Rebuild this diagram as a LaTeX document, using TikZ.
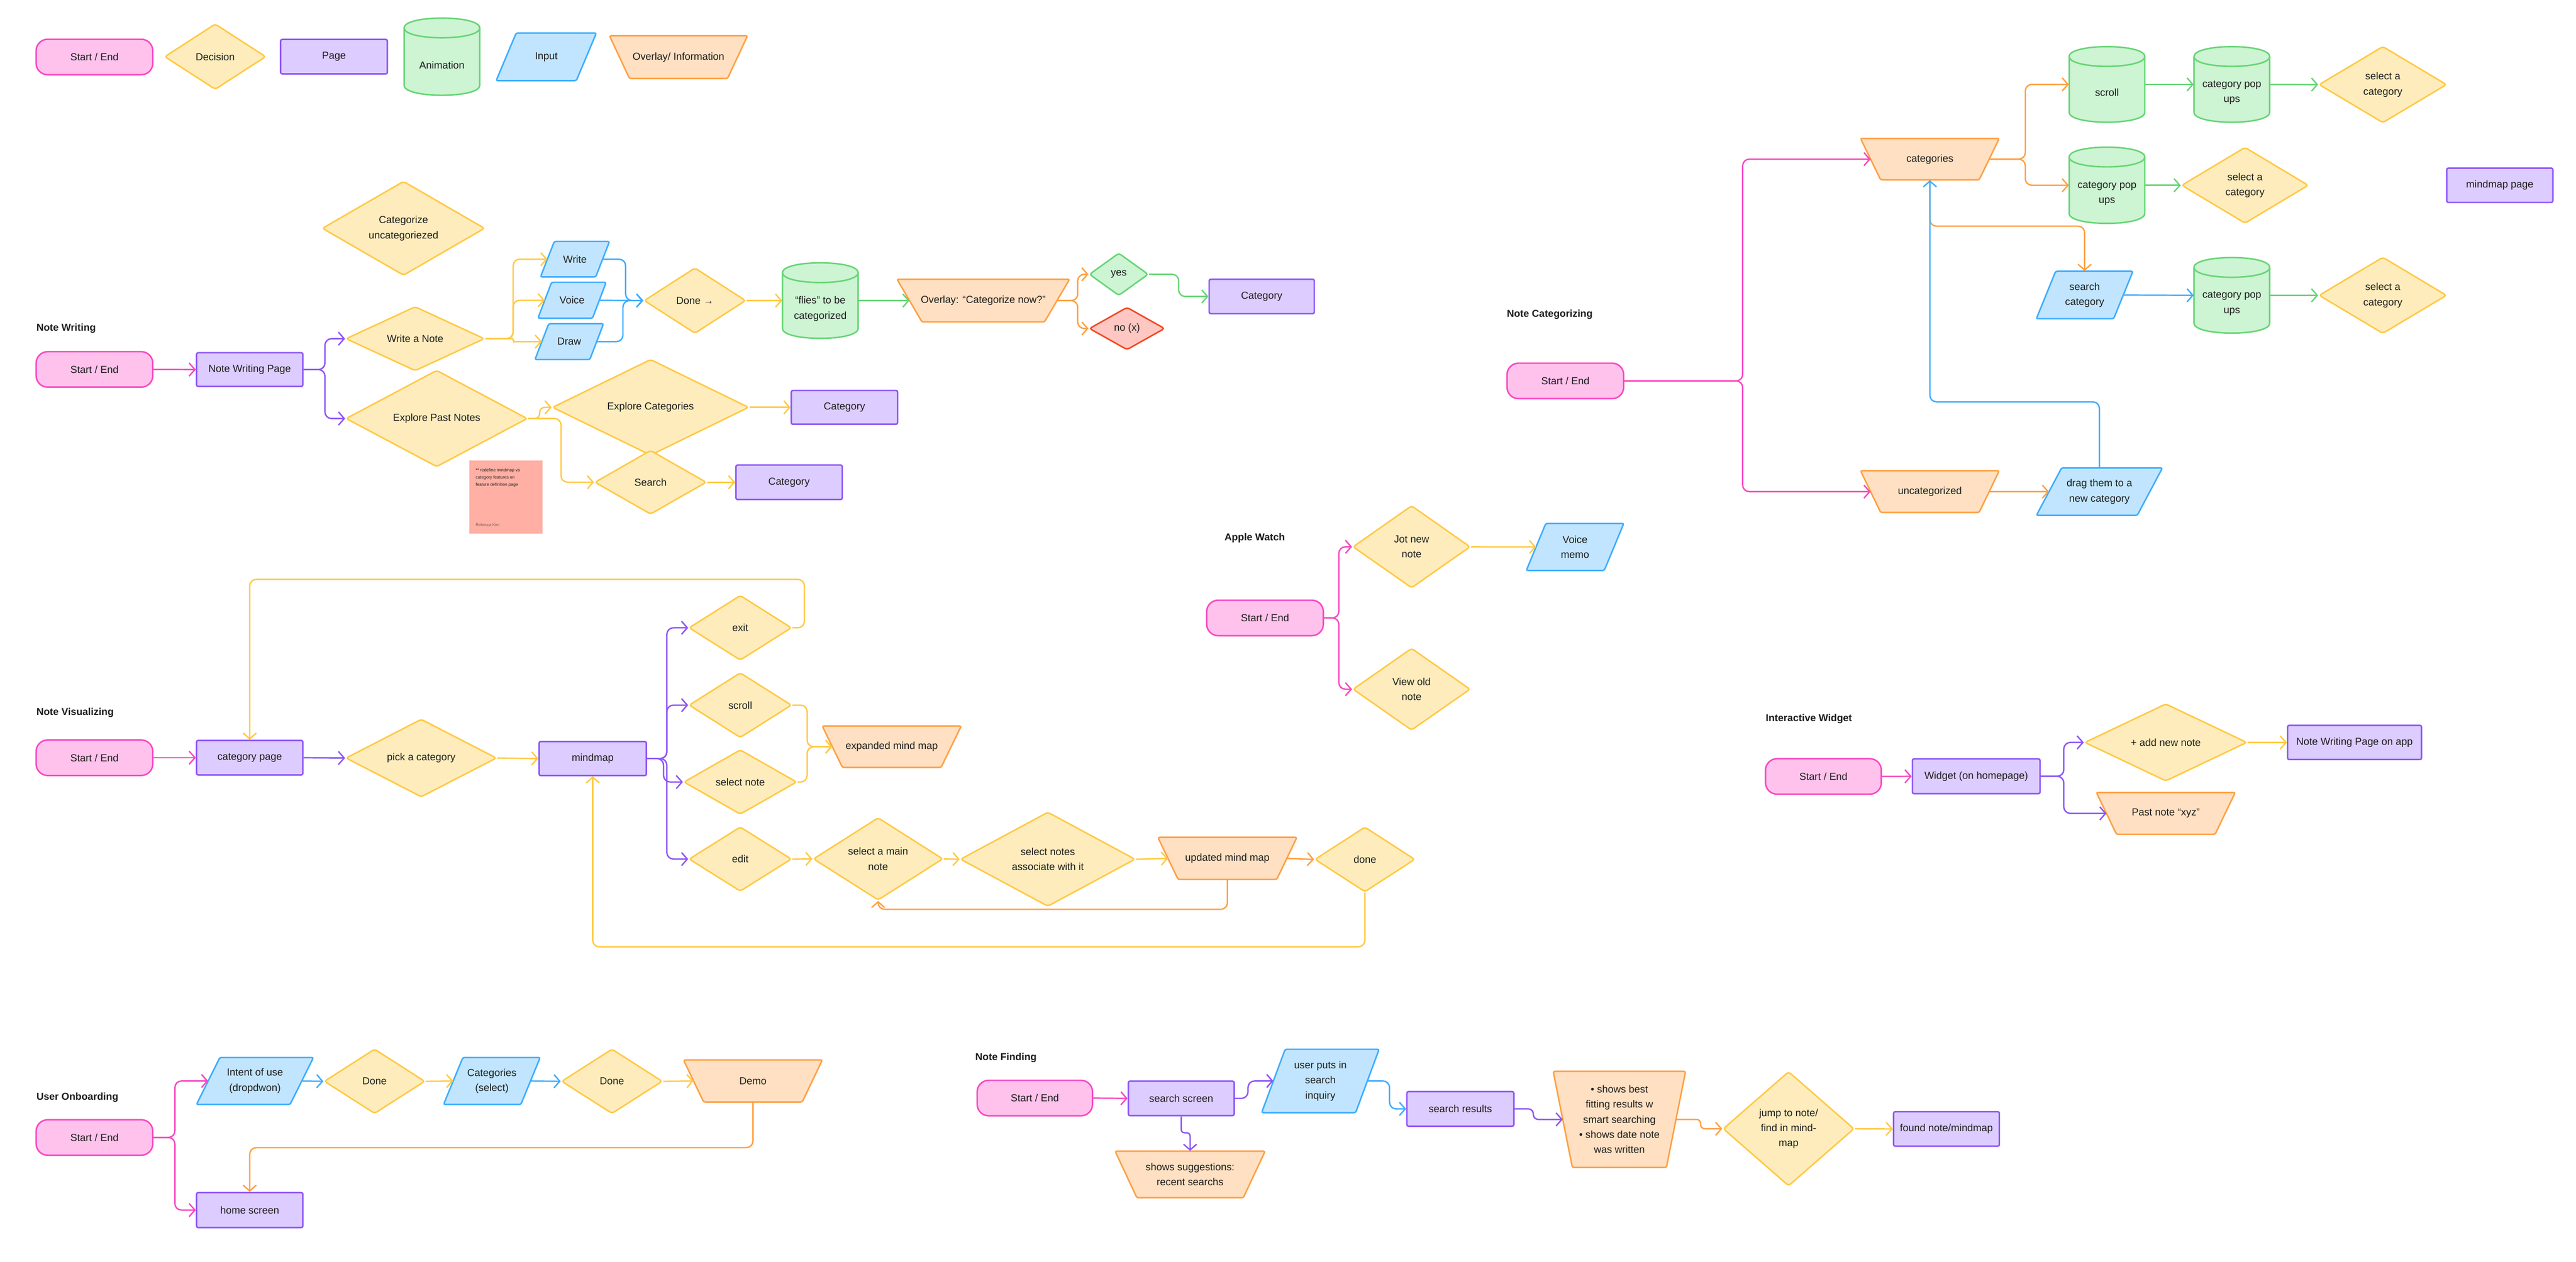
\documentclass[tikz,border=0pt]{standalone}
\usepackage{fontspec}
\setmainfont{Liberation Sans}
\usetikzlibrary{shapes.geometric,arrows.meta}
\definecolor{txt}{HTML}{1E1E1E}
\definecolor{pinkS}{HTML}{F849C1}\definecolor{pinkF}{HTML}{FFC2EC}
\definecolor{yelS}{HTML}{FFC943}\definecolor{yelF}{HTML}{FFECBD}
\definecolor{purS}{HTML}{8D55F7}\definecolor{purF}{HTML}{DCCCFF}
\definecolor{grnS}{HTML}{66D575}\definecolor{grnF}{HTML}{CDF4D3}
\definecolor{bluS}{HTML}{3DADFF}\definecolor{bluF}{HTML}{C2E5FF}
\definecolor{orgS}{HTML}{FFA043}\definecolor{orgF}{HTML}{FFE0C2}
\definecolor{redS}{HTML}{F24822}\definecolor{redF}{HTML}{FFC7C2}
\definecolor{stickyF}{HTML}{FFAFA3}\definecolor{stickyT}{HTML}{7A5A55}
\tikzset{
 every node/.style={text=txt, font=\fontsize{6.2}{9.2}\selectfont, align=center},
 startend/.style={rectangle, rounded corners=7pt, draw=pinkS, fill=pinkF, line width=0.9pt, minimum width=71pt, minimum height=21.6pt, inner sep=0pt},
 pagebox/.style={rectangle, rounded corners=1pt, draw=purS, fill=purF, line width=0.9pt, minimum width=64.7pt, minimum height=21pt, inner sep=0pt},
 decision/.style={diamond, draw=yelS, fill=yelF, line width=0.9pt, rounded corners=1.5pt, inner sep=0pt, aspect=1},
 greendec/.style={decision, draw=grnS, fill=grnF},
 reddec/.style={decision, draw=redS, fill=redF},
 lbl/.style={rectangle, inner sep=0pt},
 sectitle/.style={font=\fontsize{6.1}{7}\selectfont\bfseries, anchor=west, inner sep=0pt},
 arr/.style={line width=0.85pt, rounded corners=4pt, -{Straight Barb[length=3.5pt,width=8pt]}},
 inshape/.style={draw=bluS, fill=bluF, line width=0.9pt, rounded corners=1pt},
 ovshape/.style={draw=orgS, fill=orgF, line width=0.9pt, rounded corners=1pt},
 cylshape/.style={draw=grnS, fill=grnF, line width=0.9pt},
}
% parallelogram (input): name, cx, cy, w, h, text
\newcommand\inbox[6]{%
  \pgfmathsetmacro\skw{0.2*#4}%
  \path[inshape] ({#2-#4/2+\skw},{#3-#5/2}) -- ({#2+#4/2},{#3-#5/2}) -- ({#2+#4/2-\skw},{#3+#5/2}) -- ({#2-#4/2},{#3+#5/2}) -- cycle;
  \node[lbl, minimum width=#4pt, minimum height=#5pt] (#1) at (#2,#3) {#6};
  \coordinate (#1-l) at ({#2-#4/2+\skw/2},#3);
  \coordinate (#1-r) at ({#2+#4/2-\skw/2},#3);
}
% trapezoid (overlay): name, cx, cy, w, h, text
\newcommand\ovbox[6]{%
  \pgfmathsetmacro\ins{0.145*#4}%
  \path[ovshape] ({#2-#4/2},{#3-#5/2}) -- ({#2+#4/2},{#3-#5/2}) -- ({#2+#4/2-\ins},{#3+#5/2}) -- ({#2-#4/2+\ins},{#3+#5/2}) -- cycle;
  \node[lbl, minimum width=#4pt, minimum height=#5pt] (#1) at (#2,#3) {#6};
  \coordinate (#1-l) at ({#2-#4/2+\ins/2},#3);
  \coordinate (#1-r) at ({#2+#4/2-\ins/2},#3);
}
% cylinder (animation): name, cx, cy, w, h, text
\newcommand\cylbox[6]{%
  \pgfmathsetmacro\xa{#2-#4/2}\pgfmathsetmacro\xb{#2+#4/2}%
  \pgfmathsetmacro\ya{#3-#5/2+6}\pgfmathsetmacro\yb{#3+#5/2-6}%
  \pgfmathsetmacro\ca{\ya-8}\pgfmathsetmacro\cb{\yb+8}\pgfmathsetmacro\cc{\ya+8}%
  \path[cylshape] (\xa,\ya) -- (\xa,\yb) .. controls (\xa,\cb) and (\xb,\cb) .. (\xb,\yb) -- (\xb,\ya) .. controls (\xb,\ca) and (\xa,\ca) .. (\xa,\ya) -- cycle;
  \draw[cylshape, fill=none] (\xa,\ya) .. controls (\xa,\cc) and (\xb,\cc) .. (\xb,\ya);
  \node[lbl, minimum width=#4pt, minimum height=#5pt] (#1) at (#2,#3) {};
  \node[lbl] (#1-t) at (#2,{#3+5}) {#6};
}
\begin{document}
\begin{tikzpicture}[x=1pt,y=-1pt]
\fill[white] (0,0) rectangle (1568,768.3);
\path[use as bounding box] (0,0) rectangle (1568,768.3);

% ---------------- Legend ----------------
\node[startend] (legse) at (57.5,34.7) {Start / End};
\node[decision, minimum width=61.7pt, minimum height=40pt] (legdec) at (131,34.5) {Decision};
\node[pagebox, minimum width=65pt] (legpage) at (203.3,34.5) {Page};
\cylbox{legcyl}{269}{34.5}{46}{47}{Animation}
\inbox{legin}{332.5}{34.6}{61}{29}{Input}
\ovbox{legov}{413}{34.8}{84}{26}{Overlay/ Information}

% ---------------- Note Writing ----------------
\node[sectitle] (nwtitle) at (22,200) {Note Writing};
\node[startend] (nwstart) at (57.5,224.9) {Start / End};
\node[pagebox, minimum height=20.5pt] (nwp) at (152,225) {Note Writing Page};
\node[decision, minimum width=99pt, minimum height=53pt] (catunc) at (245.6,139) {Categorize\\uncategoriezed};
\node[decision, minimum width=84.4pt, minimum height=39.2pt] (wan) at (252.7,206.2) {Write a Note};
\node[decision, minimum width=110.5pt, minimum height=39.5pt] (epn) at (265.8,254.8) {Explore Past Notes};
\inbox{write}{350}{157.8}{42}{21.6}{Write}
\inbox{voice}{348.2}{182.8}{41.5}{21.9}{Voice}
\inbox{drawin}{346.5}{208}{41.7}{21.8}{Draw}
\node[decision, minimum width=62pt, minimum height=40pt] (doneA) at (423,183) {Done →};
\cylbox{flies}{499.3}{183}{46}{46}{“flies” to be\\categorized}
\ovbox{ov}{598.5}{183}{105}{26}{Overlay: “Categorize now?”}
\node[greendec, minimum width=36pt, minimum height=26pt] (yes) at (681,167) {yes};
\node[reddec, minimum width=46pt, minimum height=26pt] (no) at (686,200) {no (x)};
\node[pagebox, minimum width=64pt] (cat1) at (768,180.5) {Category};
\node[decision, minimum width=119.6pt, minimum height=39.2pt] (ec) at (396,248) {Explore Categories};
\node[decision, minimum width=68pt, minimum height=39pt] (srch) at (396,293.6) {Search};
\node[pagebox, minimum height=20.6pt] (cat2) at (514,248) {Category};
\node[pagebox] (cat3) at (480.3,293.6) {Category};
\node[rectangle, fill=stickyF, minimum width=44.6pt, minimum height=44.6pt, inner sep=0pt] (sticky) at (307.9,302.6) {};
\node[anchor=north west, inner sep=0pt, align=left, font=\fontsize{2.6}{4.4}\selectfont] (stickytxt) at (289.4,284.9) {** redefine mindmap vs\\category features on\\feature definition page};
\node[anchor=base west, inner sep=0pt, text=stickyT, font=\fontsize{2.4}{3}\selectfont] (stickyname) at (289.4,320.4) {Rebecca Kim};

\draw[arr, pinkS] (nwstart.east) -- (nwp.west);
\draw[arr, purS] (nwp.east) -- ++(13,0) |- (wan.west);
\draw[arr, purS] (nwp.east) -- ++(13,0) |- (epn.west);
\draw[arr, yelS] (wan.east) -- ++(17,0) |- (write-l);
\draw[arr, yelS] (wan.east) -- ++(17,0) |- (voice-l);
\draw[arr, yelS, rounded corners=1pt] (wan.east) -- ++(17,0) |- (drawin-l);
\draw[arr, bluS] (write-r) -- ++(14,0) |- (doneA.west);
\draw[arr, bluS] (voice-r) -- (doneA.west);
\draw[arr, bluS] (drawin-r) -- ++(16,0) |- (doneA.west);
\draw[arr, yelS] (doneA.east) -- (flies.west);
\draw[arr, grnS] (flies.east) -- (ov-l);
\draw[arr, orgS] (ov-r) -- ++(12.6,0) |- (yes.west);
\draw[arr, orgS] (ov-r) -- ++(12.6,0) |- (no.west);
\draw[arr, grnS] (yes.east) -- ++(18,0) |- (cat1.west);
\draw[arr, yelS, rounded corners=3pt] (epn.east) -- ++(7,0) |- (ec.west);
\draw[arr, yelS] (epn.east) -- ++(20,0) |- (srch.west);
\draw[arr, yelS] (ec.east) -- (cat2.west);
\draw[arr, yelS] (srch.east) -- (cat3.west);

% ---------------- Note Categorizing ----------------
\node[sectitle] (nctitle) at (917,191.5) {Note Categorizing};
\node[startend] (ncstart) at (952.8,231.9) {Start / End};
\ovbox{categ}{1174.7}{96.9}{84.4}{25.2}{categories}
\ovbox{uncat}{1174.7}{299.3}{84.4}{25.4}{uncategorized}
\inbox{drag}{1277.9}{299.3}{76.7}{28.9}{drag them to a\\new category}
\cylbox{scroll}{1282.5}{51.4}{46}{46}{scroll}
\cylbox{pop1}{1358.5}{51.4}{46}{46}{category pop\\ups}
\node[decision, minimum width=77.8pt, minimum height=46.6pt] (sel1) at (1450.4,51.5) {select a\\category};
\cylbox{pop2}{1282.5}{112.8}{46}{46.4}{category pop\\ups}
\node[decision, minimum width=77.3pt, minimum height=46.4pt] (sel2) at (1366.5,112.8) {select a\\category};
\node[pagebox, minimum width=64.6pt, minimum height=20.9pt] (mmpage) at (1521.6,112.8) {mindmap page};
\inbox{scat}{1268.9}{179.6}{58.8}{28.9}{search\\category}
\cylbox{pop3}{1358.5}{179.8}{46}{46}{category pop\\ups}
\node[decision, minimum width=77.8pt, minimum height=46.6pt] (sel3) at (1450.4,179.8) {select a\\category};

\draw[arr, pinkS] (ncstart.east) -- ++(72,0) |- (categ-l);
\draw[arr, pinkS] (ncstart.east) -- ++(72,0) |- (uncat-l);
\draw[arr, orgS] (categ-r) -- ++(22,0) |- (scroll.west);
\draw[arr, orgS] (categ-r) -- ++(22,0) |- (pop2.west);
\draw[arr, grnS] (scroll.east) -- (pop1.west);
\draw[arr, grnS] (pop1.east) -- (sel1.west);
\draw[arr, grnS] (pop2.east) -- (sel2.west);
\draw[arr, orgS] (categ.south) -- ++(0,28) -| (scat.north);
\draw[arr, bluS] (scat-r) -- (pop3.west);
\draw[arr, grnS] (pop3.east) -- (sel3.west);
\draw[arr, orgS] (uncat-r) -- (drag-l);
\draw[arr, bluS] (drag.north) -- ++(0,-40) -| (categ.south);

% ---------------- Apple Watch ----------------
\node[sectitle] (awtitle) at (745.2,327.4) {Apple Watch};
\node[startend] (awstart) at (770,376.2) {Start / End};
\node[decision, minimum width=71.5pt, minimum height=50.2pt] (jot) at (859.2,332.9) {Jot new\\note};
\inbox{vmemo}{958.7}{333}{59.3}{28.6}{Voice\\memo}
\node[decision, minimum width=71.5pt, minimum height=50pt] (view) at (859.2,419.6) {View old\\note};
\draw[arr, pinkS] (awstart.east) -- ++(9,0) |- (jot.west);
\draw[arr, pinkS] (awstart.east) -- ++(9,0) |- (view.west);
\draw[arr, yelS] (jot.east) -- (vmemo-l);

% ---------------- Note Visualizing ----------------
\node[sectitle] (nvtitle) at (22,434) {Note Visualizing};
\node[startend] (nvstart) at (57.5,461.3) {Start / End};
\node[pagebox] (catpage) at (152,461.3) {category page};
\node[decision, minimum width=91.8pt, minimum height=39pt] (pick) at (256.4,461.5) {pick a category};
\node[pagebox, minimum width=65.3pt, minimum height=20.7pt] (mm) at (360.8,461.8) {mindmap};
\node[decision, minimum width=62.5pt, minimum height=39.6pt] (exitd) at (450.6,382.2) {exit};
\node[decision, minimum width=62.5pt, minimum height=39.6pt] (nvscroll) at (450.6,429.3) {scroll};
\node[decision, minimum width=68.9pt, minimum height=39.4pt] (selnote) at (450.6,476.1) {select note};
\node[decision, minimum width=62.5pt, minimum height=39.3pt] (editd) at (450.6,523) {edit};
\ovbox{emm}{542.8}{454.6}{84.6}{25.2}{expanded mind map}
\node[decision, minimum width=79pt, minimum height=46.1pt] (smain) at (534.5,522.9) {select a main\\note};
\node[decision, minimum width=106.5pt, minimum height=46.6pt] (snotes) at (637.8,523.1) {select notes\\associate with it};
\ovbox{umm}{747.1}{522.6}{84.6}{25.6}{updated mind map}
\node[decision, minimum width=61pt, minimum height=39.6pt] (nvdone) at (830.8,523.2) {done};

\draw[arr, pinkS] (nvstart.east) -- (catpage.west);
\draw[arr, purS] (catpage.east) -- (pick.west);
\draw[arr, yelS] (pick.east) -- (mm.west);
\draw[arr, purS] (mm.east) -- ++(12,0) |- (exitd.west);
\draw[arr, purS] (mm.east) -- ++(12,0) |- (nvscroll.west);
\draw[arr, purS] (mm.east) -- ++(10,0) |- (selnote.west);
\draw[arr, purS] (mm.east) -- ++(12,0) |- (editd.west);
\draw[arr, yelS] (exitd.east) -- ++(7.3,0) -- ++(0,-29.5) -| (catpage.north);
\draw[arr, yelS] (nvscroll.east) -- ++(9,0) |- (emm-l);
\draw[arr, yelS] (selnote.east) -- ++(5.8,0) |- (emm-l);
\draw[arr, yelS] (editd.east) -- (smain.west);
\draw[arr, yelS] (smain.east) -- (snotes.west);
\draw[arr, yelS] (snotes.east) -- (umm-l);
\draw[arr, orgS] (umm-r) -- (nvdone.west);
\draw[arr, orgS] (umm.south) -- ++(0,18) -| (smain.south);
\draw[arr, yelS] (nvdone.south) -- ++(0,33) -| (mm.south);

% ---------------- Interactive Widget ----------------
\node[sectitle] (iwtitle) at (1074.6,437.7) {Interactive Widget};
\node[startend, minimum width=70.5pt] (iwstart) at (1109.9,472.7) {Start / End};
\node[pagebox, minimum width=77.7pt, minimum height=21.2pt] (widget) at (1202.9,472.6) {Widget (on homepage)};
\node[decision, minimum width=98.9pt, minimum height=39.5pt] (add) at (1318.3,452) {+ add new note};
\node[pagebox, minimum width=81.5pt, minimum height=20.8pt] (nwpapp) at (1433.2,452) {Note Writing Page on app};
\ovbox{past}{1318.3}{495.2}{84.5}{25.5}{Past note “xyz”}
\draw[arr, pinkS] (iwstart.east) -- (widget.west);
\draw[arr, purS] (widget.east) -- ++(14,0) |- (add.west);
\draw[arr, purS] (widget.east) -- ++(14,0) |- (past-l);
\draw[arr, yelS] (add.east) -- (nwpapp.west);

% ---------------- User Onboarding ----------------
\node[sectitle] (uotitle) at (22,668) {User Onboarding};
\node[startend] (uostart) at (57.5,692.5) {Start / End};
\inbox{intent}{155.2}{658.1}{71.2}{28.6}{Intent of use\\(dropdwon)}
\node[decision, minimum width=61.4pt, minimum height=39.4pt] (done1) at (228,658.3) {Done};
\inbox{catsel}{299.4}{658.1}{58.8}{28.6}{Categories\\(select)}
\node[decision, minimum width=61.5pt, minimum height=39.4pt] (done2) at (372.5,658.3) {Done};
\ovbox{demo}{458.3}{658.1}{84.5}{25.6}{Demo}
\node[pagebox, minimum height=21.3pt] (home) at (152,736.7) {home screen};
\draw[arr, pinkS] (uostart.east) -- ++(13,0) |- (intent-l);
\draw[arr, pinkS] (uostart.east) -- ++(13,0) |- (home.west);
\draw[arr, bluS] (intent-r) -- (done1.west);
\draw[arr, yelS] (done1.east) -- (catsel-l);
\draw[arr, bluS] (catsel-r) -- (done2.west);
\draw[arr, yelS] (done2.east) -- (demo-l);
\draw[arr, orgS] (demo.south) -- ++(0,27.6) -| (home.north);

% ---------------- Note Finding ----------------
\node[sectitle] (nftitle) at (593.5,643.9) {Note Finding};
\node[startend, minimum width=70.2pt] (nfstart) at (629.9,668.5) {Start / End};
\node[pagebox, minimum width=64.4pt] (ss) at (719,668.7) {search screen};
\inbox{up}{803.7}{658.1}{71.5}{38.6}{user puts in\\search\\inquiry}
\node[pagebox, minimum width=65.1pt, minimum height=21.1pt] (sr) at (888.9,675.1) {search results};
\ovbox{sugg}{724.4}{715}{91.3}{28.3}{shows suggestions:\\recent searchs}
\ovbox{bul}{985.7}{681.5}{80.6}{58.5}{• shows best\\fitting results w\\smart searching\\• shows date note\\was written}
\node[decision, minimum width=79.8pt, minimum height=69.7pt] (jump) at (1088.7,687.2) {jump to note/\\find in mind-\\map};
\node[pagebox, minimum width=64.4pt] (found) at (1184.8,687.3) {found note/mindmap};
\draw[arr, pinkS] (nfstart.east) -- (ss.west);
\draw[arr, purS] (ss.east) -- ++(8,0) |- (up-l);
\draw[arr, bluS] (up-r) -- ++(13.5,0) |- (sr.west);
\draw[arr, purS, rounded corners=2pt] (ss.south) -- ++(0,10) -| (sugg.north);
\draw[arr, purS, rounded corners=3pt] (sr.east) -- ++(11.4,0) |- (bul-l);
\draw[arr, orgS, rounded corners=2.5pt] (bul-r) -- ++(15,0) |- (jump.west);
\draw[arr, yelS] (jump.east) -- (found.west);
\end{tikzpicture}
\end{document}
